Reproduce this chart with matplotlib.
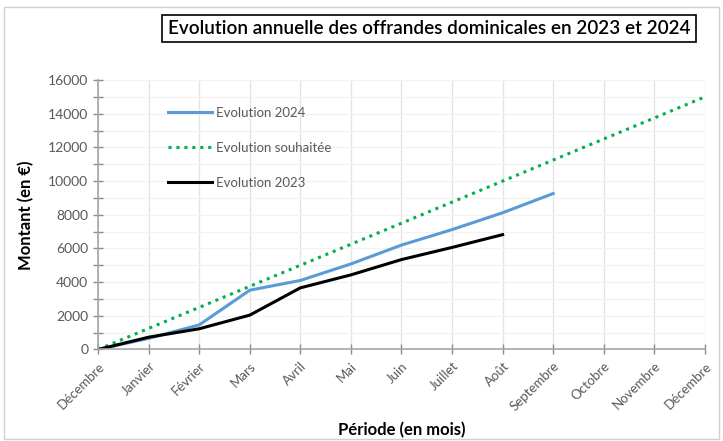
#!/usr/bin/env python3
"""Evolution annuelle des offrandes dominicales 2023 / 2024 (courbes cumulées)."""

import matplotlib
matplotlib.use("Agg")
import matplotlib.pyplot as plt
from matplotlib.patches import Rectangle
from matplotlib.ticker import MultipleLocator

# --------------------------------------------------------------------------- #
# Données
# --------------------------------------------------------------------------- #
mois = ["Décembre", "Janvier", "Février", "Mars", "Avril", "Mai", "Juin",
        "Juillet", "Août", "Septembre", "Octobre", "Novembre", "Décembre"]
evol_2024 = [0, 660, 1460, 3520, 4100, 5080, 6200, 7120, 8120, 9260]
evol_souhaitee = [0, 1250, 2500, 3750, 5000, 6250, 7500, 8750, 10000,
                  11250, 12500, 13750, 15000]
evol_2023 = [0, 730, 1230, 2040, 3660, 4430, 5340, 6060, 6820]

plt.rcParams["font.family"] = ["Lato", "DejaVu Sans"]
GRIS = "#595959"

fig = plt.figure(figsize=(7.23, 4.41), dpi=100)
ax = fig.add_axes([0.1356, 0.2075, 0.8394, 0.611])

# cadre gris clair autour du graphique (style Excel)
fig.patches.append(Rectangle((4 / 723, 1 - 439 / 441), 715 / 723, 432 / 441,
                             transform=fig.transFigure, fill=False,
                             edgecolor="#d0d0d0", lw=1))

ax.plot(range(len(evol_2024)), evol_2024, color="#5B9BD5", lw=2.2,
        label="Evolution 2024")
ax.plot(range(len(evol_souhaitee)), evol_souhaitee, color="#00B050", lw=2.2,
        ls=(0, (1, 1.6)), label="Evolution souhaitée")
ax.plot(range(len(evol_2023)), evol_2023, color="black", lw=2.2,
        label="Evolution 2023")

# axes
ax.set_xlim(0, len(mois) - 1)
ax.set_ylim(0, 16000)
ax.set_xticks(range(len(mois)))
ax.set_xticklabels(mois, rotation=45, ha="right", rotation_mode="anchor",
                   fontsize=9.5, color=GRIS)
ax.yaxis.set_major_locator(MultipleLocator(2000))
ax.yaxis.set_minor_locator(MultipleLocator(1000))
ax.tick_params(axis="y", labelsize=10, labelcolor=GRIS)
ax.tick_params(which="both", direction="inout", color="#8c8c8c", length=7,
               width=1)
ax.tick_params(axis="x", pad=4)

for s in ["top", "right"]:
    ax.spines[s].set_visible(False)
for s in ["left", "bottom"]:
    ax.spines[s].set_color("#a6a6a6")
    ax.spines[s].set_linewidth(1.2)

ax.grid(axis="x", color="#e3e3e3", lw=0.9)
ax.grid(axis="y", which="both", color="#f2f2f2", lw=0.9)
ax.set_axisbelow(True)

ax.set_ylabel("Montant (en €)", fontsize=12, fontweight="bold",
              labelpad=10)
ax.set_xlabel("Période (en mois)", fontsize=12, fontweight="bold",
              labelpad=6)

leg = ax.legend(loc="upper left", bbox_to_anchor=(0.095, 0.945), frameon=False,
                fontsize=9.5, handlelength=3.4, labelspacing=1.75,
                handletextpad=0.3)
for t in leg.get_texts():
    t.set_color(GRIS)

fig.text(0.5934, 0.935, "Evolution annuelle des offrandes dominicales en 2023 et 2024",
         ha="center", va="center", fontsize=13.6, fontweight="semibold",
         bbox=dict(boxstyle="square,pad=0.28", fc="white", ec="black", lw=1.2))

fig.savefig("out.png", dpi=100)
